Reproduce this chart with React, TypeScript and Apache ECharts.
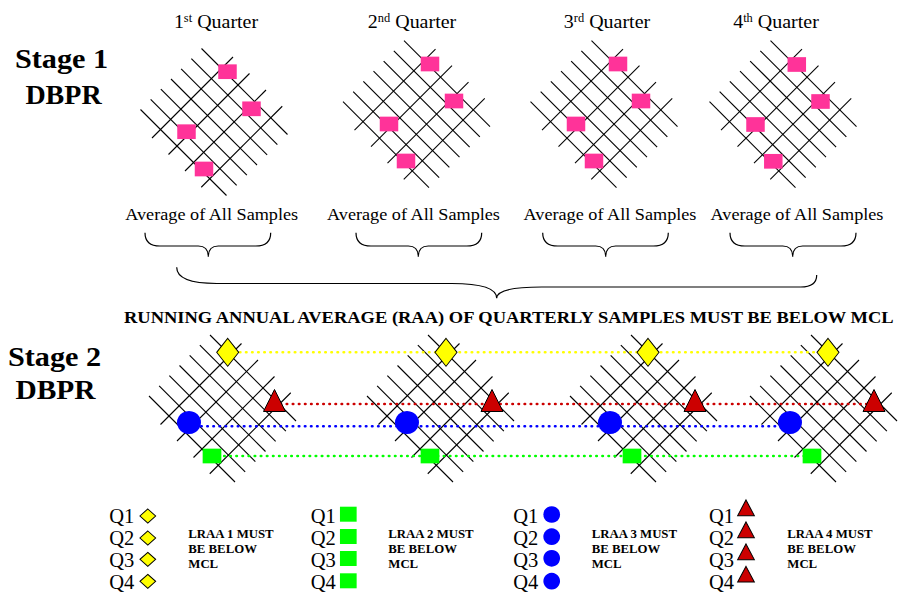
import React, { useEffect, useRef } from "react";
import * as echarts from "echarts";

const SERIF = "'Liberation Serif', 'Times New Roman', Times, serif";

// ---------- Stage 1 ----------
const quarterNumbers = ["1", "2", "3", "4"];
const quarterSuffixes = ["st", "nd", "rd", "th"];
const quarterWord = " Quarter";
const quarterTitleX = [216, 412, 607, 776];
const averageLabel = "Average of All Samples";
const averageLabelX = [211.7, 413.5, 610, 797];

// centres of the four distribution-system grids (stage 1)
const stage1GridX = [215.5, 418, 605.5, 784.5];
const stage1GridY = [120.5, 112.7, 112.7, 112.7];

// sample sites (pink) per quarter
const stage1SampleX = [
  [227.5, 251.5, 186.5, 204],
  [430, 454, 389, 406],
  [618, 641, 576, 594],
  [796.8, 820.5, 755.5, 773.3],
];
const stage1SampleY = [
  [71.7, 108.8, 131.7, 169],
  [64, 101, 124, 161],
  [64, 101, 124, 161],
  [64.5, 101.5, 124.5, 161.3],
];

// street offsets of a grid in diagonal coordinates
const streetsDown = [-64, -43.7, -23.3, -3, 17.3, 37.7, 58];
const streetsUp = [-46, -13, 20, 52.5];
const streetDownHalf = 86;
const streetUpHalf = 81;

// braces: [xL, yL, xR, yR, xTip, yTip, yMidL, yMidR, rL, rTip, rR]
const smallBraces = [
  [145, 232.7, 270.7, 232.7, 208.3, 256.7, 246, 246, 15, 10, 15],
  [356, 232.7, 481.7, 232.7, 418.3, 256.7, 246, 246, 15, 10, 15],
  [542.7, 232.7, 668.3, 232.7, 605.7, 256.7, 246, 246, 15, 10, 15],
  [730, 232.7, 856, 232.7, 792.7, 256.7, 246, 246, 15, 10, 15],
];
const annualBrace = [176.7, 267.3, 816.7, 275, 496.7, 298.3, 283.5, 287, 40, 45, 16];
const raaText = "RUNNING ANNUAL AVERAGE (RAA) OF QUARTERLY SAMPLES MUST BE BELOW MCL";

// ---------- Stage 2 ----------
const stage2GridX = [224, 442, 645, 825];
const stage2GridY = [407, 407, 407, 407];
const lraa1X = [227.7, 446, 648, 828];
const lraa1Y = 352.3;
const lraa2X = [212, 430, 632, 812];
const lraa2Y = 456;
const lraa3X = [189, 407, 610, 790];
const lraa3Y = 426.3;
const lraa4X = [274.5, 492, 695, 874];
const lraa4Y = 404;

// ---------- Legend ----------
const legendQuarterLabels = ["Q1", "Q2", "Q3", "Q4"];
const legendLabelX = [109.3, 310.7, 513.3, 709];
const legendLabelY = [515.7, 537.7, 560, 582];
const legendMarkerX = [147.8, 348.3, 551.7, 746];
const legendMarkerY = [
  [516, 538, 559.3, 581.3],
  [514.2, 536.5, 558.5, 580.8],
  [514.5, 536.7, 558.3, 581.2],
  [507.8, 529.8, 551.8, 574.2],
];
const lraaNumbers = [1, 2, 3, 4];
const lraaNoteX = [188.3, 388.3, 591.7, 787.3];
const lraaNoteY = [534.2, 549.2, 564.2];

function gridSegments(cx: number, cy: number): number[][] {
  const segs: number[][] = [];
  for (const c of streetsDown) {
    const d1 = -streetDownHalf;
    const d2 = streetDownHalf;
    segs.push([cx + (c + d1) / 2, cy + (d1 - c) / 2, cx + (c + d2) / 2, cy + (d2 - c) / 2]);
  }
  for (const d of streetsUp) {
    const c1 = -streetUpHalf;
    const c2 = streetUpHalf;
    segs.push([cx + (c1 + d) / 2, cy + (d - c1) / 2, cx + (c2 + d) / 2, cy + (d - c2) / 2]);
  }
  return segs;
}

export default function App() {
  const ref = useRef<HTMLDivElement>(null);
  useEffect(() => {
    document.body.style.margin = "0";
    if (!ref.current) return;
    const chart = echarts.init(ref.current, undefined, { renderer: "svg" });

    const segData: number[][] = [];
    stage1GridX.forEach((x, i) => segData.push(...gridSegments(x, stage1GridY[i])));
    stage2GridX.forEach((x, i) => segData.push(...gridSegments(x, stage2GridY[i])));

    const samplePts: number[][] = [];
    stage1SampleX.forEach((xs, q) => xs.forEach((x, k) => samplePts.push([x, stage1SampleY[q][k]])));

    const braceData = [...smallBraces, annualBrace];

    const graphic: any[] = [];
    const titleStyle = { fontFamily: SERIF, fontWeight: "bold", fontSize: 28, fill: "#000", align: "center", verticalAlign: "middle" };
    graphic.push({ type: "text", x: 61.5, y: 58, scaleX: 1.08, style: { ...titleStyle, text: "Stage 1" } });
    graphic.push({ type: "text", x: 63.5, y: 94, style: { ...titleStyle, text: "DBPR" } });
    graphic.push({ type: "text", x: 54.5, y: 356, scaleX: 1.08, style: { ...titleStyle, text: "Stage 2" } });
    graphic.push({ type: "text", x: 55.5, y: 389, scaleX: 1.05, style: { ...titleStyle, text: "DBPR" } });

    quarterNumbers.forEach((n, i) => {
      graphic.push({
        type: "text",
        x: quarterTitleX[i],
        y: 22,
        scaleX: 1.08,
        style: {
          text: `{n|${n}}{s|${quarterSuffixes[i]}}{n|${quarterWord}}`,
          rich: {
            n: { fontSize: 18.5, fontFamily: SERIF, fill: "#000", verticalAlign: "bottom" },
            s: { fontSize: 11.5, fontFamily: SERIF, fill: "#000", verticalAlign: "top" },
          },
          align: "center",
          verticalAlign: "middle",
        },
      });
      graphic.push({
        type: "text",
        x: averageLabelX[i],
        y: 214,
        scaleX: 1.09,
        style: { text: averageLabel, fontFamily: SERIF, fontSize: 16.7, fill: "#000", align: "center", verticalAlign: "middle" },
      });
    });
    graphic.push({
      type: "text",
      x: 124,
      y: 317,
      scaleX: 1.1,
      style: { text: raaText, fontFamily: SERIF, fontWeight: "bold", fontSize: 16.8, fill: "#000", align: "left", verticalAlign: "middle" },
    });

    lraaNumbers.forEach((n, g) => {
      legendQuarterLabels.forEach((q, r) => {
        graphic.push({
          type: "text",
          x: legendLabelX[g],
          y: legendLabelY[r],
          style: { text: q, fontFamily: SERIF, fontSize: 20.5, fill: "#000", align: "left", verticalAlign: "middle" },
        });
      });
      [`LRAA ${n} MUST`, "BE BELOW", "MCL"].forEach((t, r) => {
        graphic.push({
          type: "text",
          x: lraaNoteX[g],
          y: lraaNoteY[r],
          style: { text: t, fontFamily: SERIF, fontWeight: "bold", fontSize: 12.8, fill: "#000", align: "left", verticalAlign: "middle" },
        });
      });
    });

    const legendPts = (g: number) => legendMarkerY[g].map((y) => [legendMarkerX[g], y]);
    const dotted = (color: string) => ({ color, width: 2.6, type: [0.5, 5.6], cap: "round" });

    const option: any = {
      animation: false,
      backgroundColor: "#fff",
      grid: { left: 0, right: 0, top: 0, bottom: 0 },
      xAxis: { type: "value", min: 0, max: 899, show: false },
      yAxis: { type: "value", min: 0, max: 593, inverse: true, show: false },
      graphic,
      series: [
        {
          type: "custom",
          name: "streets",
          silent: true,
          clip: false,
          z: 1,
          encode: { x: [0, 2], y: [1, 3] },
          data: segData,
          renderItem: (_p: any, api: any) => {
            const a = api.coord([api.value(0), api.value(1)]);
            const b = api.coord([api.value(2), api.value(3)]);
            return {
              type: "line",
              shape: { x1: a[0], y1: a[1], x2: b[0], y2: b[1] },
              style: { stroke: "#000", lineWidth: 1.1 },
            };
          },
        },
        {
          type: "custom",
          name: "braces",
          silent: true,
          clip: false,
          z: 1,
          encode: { x: [0, 2], y: [1, 3] },
          data: braceData,
          renderItem: (_p: any, api: any) => {
            const v = (i: number) => api.value(i);
            const [xL, yL, xR, yR, xT, yT, mL, mR, rL, rT, rR] = [0, 1, 2, 3, 4, 5, 6, 7, 8, 9, 10].map(v);
            const P = (x: number, y: number) => {
              const c = api.coord([x, y]);
              return `${c[0].toFixed(2)} ${c[1].toFixed(2)}`;
            };
            const d =
              `M ${P(xL, yL)} Q ${P(xL, mL)} ${P(xL + rL, mL)} L ${P(xT - rT, mL)} Q ${P(xT, mL)} ${P(xT, yT)} ` +
              `Q ${P(xT, mR)} ${P(xT + rT, mR)} L ${P(xR - rR, mR)} Q ${P(xR, mR)} ${P(xR, yR)}`;
            return { type: "path", shape: { pathData: d }, style: { fill: "none", stroke: "#000", lineWidth: 1.2 } };
          },
        },
        { type: "line", name: "LRAA 1", silent: true, z: 2, symbol: "none", data: lraa1X.map((x) => [x, lraa1Y]), lineStyle: dotted("#FFFF00") },
        { type: "line", name: "LRAA 4", silent: true, z: 2, symbol: "none", data: lraa4X.map((x) => [x, lraa4Y]), lineStyle: dotted("#CC0000") },
        { type: "line", name: "LRAA 3", silent: true, z: 2, symbol: "none", data: lraa3X.map((x) => [x, lraa3Y]), lineStyle: dotted("#0000FF") },
        { type: "line", name: "LRAA 2", silent: true, z: 2, symbol: "none", data: lraa2X.map((x) => [x, lraa2Y]), lineStyle: dotted("#00FF00") },
        {
          type: "scatter", name: "samples", silent: true, z: 3, symbol: "rect", symbolSize: [18.5, 14.7],
          itemStyle: { color: "#FF3399", opacity: 1 }, data: samplePts,
        },
        {
          type: "scatter", name: "lraa1", silent: true, z: 3, symbol: "diamond", symbolSize: [22, 28],
          itemStyle: { color: "#FFFF00", borderColor: "#000", borderWidth: 1, opacity: 1 }, data: lraa1X.map((x) => [x, lraa1Y]),
        },
        {
          type: "scatter", name: "lraa2", silent: true, z: 3, symbol: "rect", symbolSize: [18.7, 14.7],
          itemStyle: { color: "#00FF00", opacity: 1 }, data: lraa2X.map((x) => [x, lraa2Y]),
        },
        {
          type: "scatter", name: "lraa3", silent: true, z: 3, symbol: "circle", symbolSize: [24, 23], symbolOffset: [0, -3.8],
          itemStyle: { color: "#0000FF", opacity: 1 }, data: lraa3X.map((x) => [x, lraa3Y]),
        },
        {
          type: "scatter", name: "lraa4", silent: true, z: 3, symbol: "triangle", symbolSize: [22, 22], symbolOffset: [0, -3.5],
          itemStyle: { color: "#CC0000", borderColor: "#000", borderWidth: 1, opacity: 1 }, data: lraa4X.map((x) => [x, lraa4Y]),
        },
        {
          type: "scatter", name: "key1", silent: true, z: 3, symbol: "diamond", symbolSize: [15.7, 14],
          itemStyle: { color: "#FFFF00", borderColor: "#000", borderWidth: 1, opacity: 1 }, data: legendPts(0),
        },
        {
          type: "scatter", name: "key2", silent: true, z: 3, symbol: "rect", symbolSize: [16.7, 15],
          itemStyle: { color: "#00FF00", opacity: 1 }, data: legendPts(1),
        },
        {
          type: "scatter", name: "key3", silent: true, z: 3, symbol: "circle", symbolSize: 16.7,
          itemStyle: { color: "#0000FF", opacity: 1 }, data: legendPts(2),
        },
        {
          type: "scatter", name: "key4", silent: true, z: 3, symbol: "triangle", symbolSize: [16.7, 15.7],
          itemStyle: { color: "#CC0000", borderColor: "#000", borderWidth: 1, opacity: 1 }, data: legendPts(3),
        },
      ],
    };
    chart.setOption(option);
    return () => chart.dispose();
  }, []);
  return <div ref={ref} style={{ width: 899, height: 593 }} />;
}
